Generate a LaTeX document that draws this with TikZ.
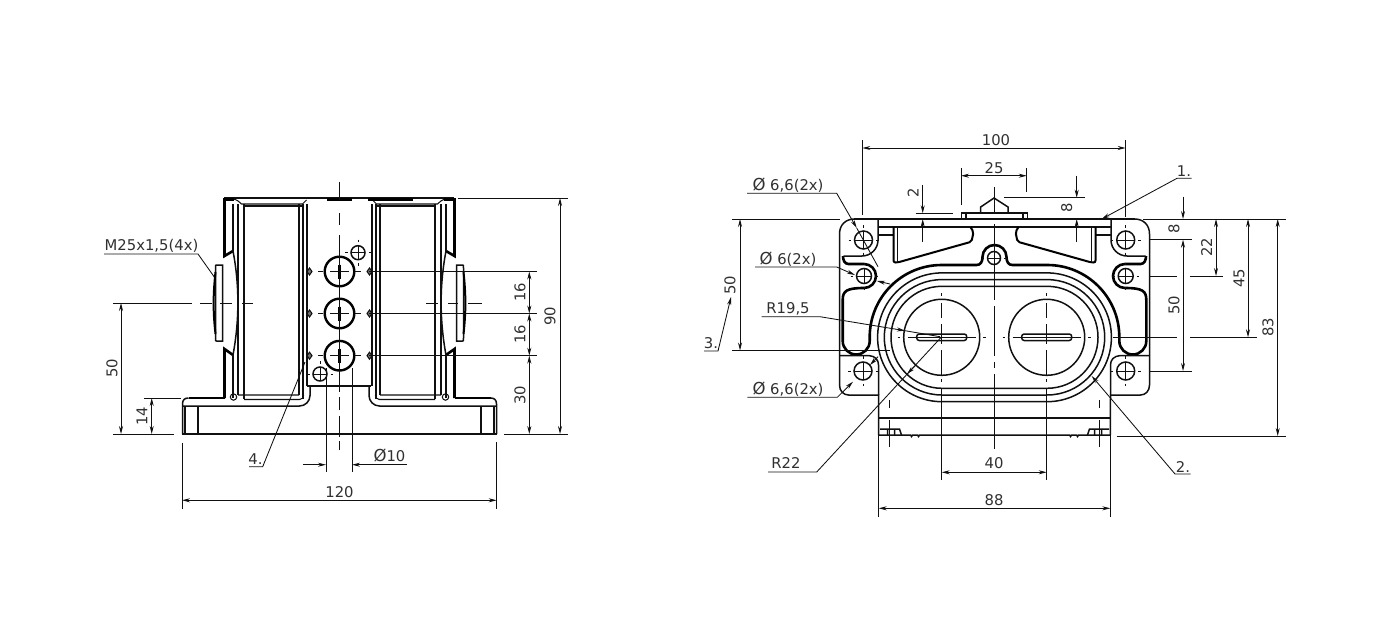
\documentclass[tikz,border=0pt]{standalone}
\usepackage{fontspec}
\setmainfont{DejaVu Sans}
\usepackage{xcolor}
\usetikzlibrary{arrows.meta}
\definecolor{mInk}{HTML}{101010}
\definecolor{mLabel}{HTML}{303030}
\tikzset{
  thinpart/.style={draw=mInk, line width=1.05pt},
  midpart/.style={draw=mInk, line width=1.5pt},
  heavypart/.style={draw=black, line width=2.6pt},
  dimline/.style={draw=mInk, line width=0.85pt},
  axisline/.style={draw=mInk, line width=0.8pt},
  dimtext/.style={text=mLabel, inner sep=0pt, font=\fontsize{14.8}{15}\selectfont},
  sidetext/.style={dimtext, rotate=90},
}
\newcommand{\bigdia}{{\fontsize{16.5}{15}\selectfont Ø}}
% bolt hole with its cross and the four ticks round it
\newcommand{\bolthole}[3]{
  \draw[midpart] (#1,#2) circle[radius=#3];
  \draw[axisline] (#1-#3,#2) -- (#1+#3,#2) (#1,#2-#3) -- (#1,#2+#3);
  \draw[axisline] (#1-#3-6,#2) -- +(2.5,0) (#1+#3+3.5,#2) -- +(2.5,0)
    (#1,#2-#3-6) -- +(0,2.5) (#1,#2+#3+3.5) -- +(0,2.5);
}
% small mark beside the holes of the side view
\newcommand{\sidemark}[2]{
  \draw[thinpart, fill=black!55] (#1-2.5,#2) -- (#1,#2-3.5) -- (#1+2.5,#2) -- (#1,#2+3.5) -- cycle;
}
\begin{document}
\begin{tikzpicture}[x=1pt, y=-1pt, >={Stealth[length=8pt, width=4pt]}]
\useasboundingbox (0,0) rectangle (1380,631);

% ---- side view ----
\foreach \sgn in {1,-1}{
  \begin{scope}[shift={(339.5,0)}, xscale=\sgn]
    \draw[heavypart] (-115,198) -- (-115,256) -- (-106.5,251);
    \draw[heavypart] (-106.5,355) -- (-115,349) -- (-115,398);
    \draw[midpart] (-106.5,251) .. controls (-100,285) and (-100,320) .. (-106.5,355);
    \draw[thinpart] (-106.5,204) -- (-106.5,251) (-106.5,355) -- (-106.5,398);
    \draw[thinpart] (-101.5,204) -- (-101.5,395);
    \draw[thinpart] (-95.5,204) -- (-95.5,399);
    \draw[thinpart] (-40.5,204) -- (-40.5,395) (-36.5,204) -- (-36.5,399) (-32.5,204) -- (-32.5,386);
    \draw[thinpart] (-106,199) .. controls (-102,200) and (-100,202) .. (-98,204) -- (-37,204);
    \draw[thinpart] (-95.5,206) -- (-37,206);
    \draw[thinpart] (-37,204) -- (-33,200);
    % connector stub
    \draw[midpart] (-117,341) -- (-123,341) .. controls (-124,341) and (-124,341) .. (-124,338)
      -- (-124,268) .. controls (-124,265) and (-124,265) .. (-123,265) -- (-117,265) -- cycle;
    \draw[heavypart, line width=2pt] (-124,272) .. controls (-126.5,295) and (-126.5,312) .. (-124,334);
    % foot of the housing
    \draw[heavypart] (-151,398) -- (-115,398);
    \draw[midpart] (-157,434) -- (-157,404) .. controls (-157,400) and (-155,398) .. (-151,398);
    \draw[thinpart] (-154.5,406) -- (-154.5,434) (-141.5,406) -- (-141.5,434);
    \draw[midpart] (-157,406) -- (-40,406) arc[start angle=90, end angle=0, radius=10.5] -- (-29.5,386);
    \draw[thinpart] (-101.5,395) -- (-40.5,395) (-95.5,399.5) -- (-40,399.5)
      arc[start angle=90, end angle=0, radius=4] -- (-36,395);
    \draw[thinpart] (-106,397) circle[radius=3.2];
  \end{scope}
}
\draw[midpart] (224,198) -- (454,198);
\draw[midpart] (182,434) -- (497,434);
\draw[midpart] (307,386) -- (371,386);
\draw[heavypart] (327,199.5) -- (352,199.5) (368,199.5) -- (413,199.5) (224,199.5) -- (234,199.5);
\draw[heavypart] (444,199.5) -- (454,199.5);
% three screw holes
\foreach \yh in {271.5,313.5,355.7}{
  \draw[heavypart, line width=2.4pt] (339.5,\yh) circle[radius=14.8];
  \draw[heavypart, line width=2.4pt] (339.5,\yh-7) -- (339.5,\yh+7);
  \draw[axisline] (318,\yh) -- (323,\yh) (330,\yh) -- (349,\yh) (355,\yh) -- (361,\yh);
  \sidemark{309.5}{\yh}
  \sidemark{369.5}{\yh}
}
\bolthole{358}{252.7}{7}
\bolthole{320}{374}{7}
\draw[axisline] (339.5,182) -- (339.5,200) (339.5,213) -- (339.5,225) (339.5,235) -- (339.5,392)
  (339.5,397) -- (339.5,410) (339.5,416) -- (339.5,437) (339.5,441) -- (339.5,450);
\draw[axisline] (200,303) -- (212,303) (220,303) -- (232,303) (242,303) -- (253,303);
\draw[axisline] (426,303) -- (438,303) (448,303) -- (458,303) (468,303) -- (482,303);

% dimensions of the side view
\draw[dimline] (113,303) -- (192,303) (113,434) -- (174,434) (144,398) -- (181,398);
\draw[dimline, <->] (121,303) -- (121,434);
\node[sidetext] (dimA) at (112,368) {50};
\draw[dimline, <->] (151.7,398) -- (151.7,434);
\node[sidetext] (dimB) at (142,416) {14};
\draw[dimline] (369,271.5) -- (537,271.5) (369,313.5) -- (537,313.5) (369,355.7) -- (537,355.7);
\draw[dimline] (504,434) -- (568,434) (458,198) -- (568,198);
\draw[dimline, <->] (529.3,271.5) -- (529.3,313.5);
\draw[dimline, <->] (529.3,313.5) -- (529.3,355.7);
\draw[dimline, <->] (529.3,355.7) -- (529.3,434);
\node[sidetext] (dimC) at (520,292) {16};
\node[sidetext] (dimD) at (520,334) {16};
\node[sidetext] (dimE) at (520,395) {30};
\draw[dimline, <->] (560,198) -- (560,434);
\node[sidetext] (dimF) at (550,316) {90};
\draw[dimline] (182,443) -- (182,509) (496.7,442) -- (496.7,509);
\draw[dimline, <->] (182,500.3) -- (496.7,500.3);
\node[dimtext] (dimG) at (339.5,492) {120};
\draw[dimline] (326,368) -- (326,472) (352,368) -- (352,472);
\draw[dimline, <-] (326,464.7) -- (303,464.7);
\draw[dimline, <-] (352,464.7) -- (407,464.7);
\node[dimtext] (dimH) at (389.5,455.5) {\bigdia10};
\node[dimtext] (noteA) at (151.5,245.5) {M25x1,5(4x)};
\draw[dimline] (104,254) -- (198,254) -- (214.3,277);
\node[dimtext] (noteB) at (255.5,459) {4.};
\draw[dimline] (249,466.7) -- (262.7,466.7) -- (305,362);

% ---- top view ----
\foreach \sgn in {1,-1}{
  \begin{scope}[shift={(994.5,0)}, xscale=\sgn]
    % sealing groove
    \draw[heavypart] (0,245) arc[start angle=-90, end angle=-180, radius=12]
      .. controls (-12,262) and (-14,265) .. (-18,265) -- (-52.8,265)
      arc[start angle=-90, end angle=-180, radius=72] -- (-124.8,341)
      arc[start angle=0, end angle=180, radius=13.5] -- (-151.8,300)
      .. controls (-151.8,291) and (-148,288) .. (-130.5,288)
      arc[start angle=90, end angle=-90, radius=12] -- (-146,264)
      .. controls (-150,264) and (-151.5,260) .. (-151.5,256);
    % rings of the cover
    \foreach \rad in {51,57.7,64.4}{
      \pgfmathsetmacro{\ytop}{337.3-\rad}
      \draw[midpart] (0,\ytop) -- (-52.5,\ytop)
        arc[start angle=-90, end angle=-270, radius=\rad] -- (0,337.3+\rad);
    }
    % flanges
    \draw[midpart] (-155,385) -- (-155,234) .. controls (-155,225) and (-149,219) .. (-140,219);
    \draw[midpart] (-116.5,219) -- (-116.5,240) arc[start angle=0, end angle=90, radius=16] -- (-151,256);
    \draw[midpart] (-155,355.5) -- (-126,355.5) .. controls (-119,356) and (-116,360) .. (-116,365) -- (-116,395);
    \draw[midpart] (-155,385) .. controls (-155,391) and (-151,395) .. (-146,395) -- (-116,395) -- (-115.8,435);
    \draw[thinpart] (-116,227) -- (0,227) (-116,235) -- (-101,235);
    % wedge
    \draw[heavypart, line width=2pt, rounded corners=2pt] (-101,227) -- (-101,262.5) -- (-97,262.5) -- (-23,241.7) -- (-21,232) -- (-24,227);
    \draw[thinpart] (-97,227) -- (-97,262);
    % feet
    \draw[midpart] (-114.5,429) -- (-95,429) -- (-93,435)
      (-107,429) -- (-107,435) (-100,429) -- (-100,435);
    \draw[midpart] (-115.8,435) -- (-84,435) -- (-83,436.5) -- (-82,435) -- (-77,435) -- (-76,436.5) -- (-75,435) -- (0,435);
    \draw[midpart] (-115.8,418) -- (0,418);
    \draw[axisline] (-105.3,400) -- (-105.3,408) (-105.3,420) -- (-105.3,447);
  \end{scope}
}
\draw[midpart] (854,219) -- (1135,219);
\draw[midpart] (961.5,213) rectangle (1027.5,219);
\draw[thinpart] (966,213) -- (966,219) (1023,213) -- (1023,219);
\draw[midpart] (980.7,213) -- (980.7,207) -- (994,198) -- (1008,207) -- (1008,213);
% holes
\bolthole{863.5}{240}{9}
\bolthole{1125.7}{240}{9}
\bolthole{864}{276}{7.5}
\bolthole{1125.7}{276}{7.5}
\bolthole{863}{371}{9}
\bolthole{1125.7}{371}{9}
\bolthole{994}{258}{6.5}
\foreach \xh in {941.7,1046.7}{
  \draw[midpart] (\xh,337.3) circle[radius=38];
  \draw[midpart, fill=white, rounded corners=2.5pt] (\xh-25,334) rectangle (\xh+25,340.5);
  \draw[heavypart, line width=1.4pt] (\xh-9,337.3) -- (\xh+9,337.3);
  \draw[axisline] (\xh-34,337.3) -- (\xh+34,337.3);
  \draw[axisline] (\xh-44,337.3) -- +(2.5,0) (\xh+41.5,337.3) -- +(2.5,0);
  \draw[axisline] (\xh,293) -- +(0,2.5) (\xh,303) -- (\xh,318) (\xh,324) -- (\xh,344) (\xh,350) -- (\xh,375) (\xh,379) -- +(0,2.5);
  \draw[dimline] (\xh,388) -- (\xh,480);
}
\draw[axisline] (994.5,187) -- (994.5,213) (994.5,224) -- (994.5,300) (994.5,306) -- (994.5,356)
  (994.5,362) -- (994.5,368) (994.5,374) -- (994.5,449);

% dimensions of the top view
\draw[dimline] (862.3,140) -- (862.3,215) (1125.7,140) -- (1125.7,217);
\draw[dimline, <->] (862.3,148) -- (1125.7,148);
\node[dimtext] (dimJ) at (996,140) {100};
\draw[dimline] (961,168) -- (961,205) (1026.7,168) -- (1026.7,192);
\draw[dimline, <->] (961,175.7) -- (1026.7,175.7);
\node[dimtext] (dimK) at (994,168) {25};
\draw[dimline] (915.7,213.3) -- (953,213.3);
\draw[dimline, ->] (922.7,185) -- (922.7,213.3);
\draw[dimline, ->] (922.7,241.7) -- (922.7,219);
\node[sidetext] (dimL) at (913,193) {2};
\draw[dimline] (1004,197.7) -- (1085,197.7);
\draw[dimline, ->] (1076.7,175.7) -- (1076.7,197.7);
\draw[dimline, ->] (1076.7,241.7) -- (1076.7,219);
\node[sidetext] (dimM) at (1066.7,208) {8};
\draw[dimline] (732,219) -- (840,219) (732,350.5) -- (890,350.5);
\draw[dimline, <->] (740,219) -- (740,350.5);
\node[sidetext] (dimN) at (730,285) {50};
\draw[dimline] (1143,219) -- (1286,219) (1150,239.7) -- (1191.7,239.7) (1150,371) -- (1191.7,371);
\draw[dimline] (1150,276) -- (1176.7,276) (1190,276) -- (1223,276);
\draw[dimline] (1113,337.3) -- (1177,337.3) (1190,337.3) -- (1256.7,337.3) (1116.7,436) -- (1286,436);
\draw[dimline, ->] (1183,196.7) -- (1183,219);
\draw[dimline, <->] (1183,239.7) -- (1183,371);
\node[sidetext] (dimP) at (1174,229) {8};
\node[sidetext] (dimQ) at (1174,305) {50};
\draw[dimline, <->] (1216,219) -- (1216,276);
\node[sidetext] (dimR) at (1206.7,247) {22};
\draw[dimline, <->] (1248,219) -- (1248,337.3);
\node[sidetext] (dimS) at (1239,278) {45};
\draw[dimline, <->] (1277.7,219) -- (1277.7,436);
\node[sidetext] (dimT) at (1268,327) {83};
\draw[dimline, <->] (941.7,472.3) -- (1046.7,472.3);
\node[dimtext] (dimU) at (994,463.5) {40};
\draw[dimline] (878.7,435) -- (878.7,516.7) (1110.3,435) -- (1110.3,516.7);
\draw[dimline, <->] (878.7,508.3) -- (1110.3,508.3);
\node[dimtext] (dimV) at (994,500) {88};

% leaders
\node[dimtext] (noteC) at (788,185.5) {\bigdia{} 6,6(2x)};
\draw[dimline, ->] (747,193.3) -- (836.7,193.3) -- (856.7,228);
\draw[dimline] (856.7,228) -- (878,266.7);
\node[dimtext] (noteD) at (788,259) {\bigdia{} 6(2x)};
\draw[dimline, ->] (755,267) -- (836.7,267) -- (855,275);
\draw[dimline, ->] (890,284) -- (877,281);
\node[dimtext] (noteE) at (788,389) {\bigdia{} 6,6(2x)};
\draw[dimline, ->] (747.3,397.3) -- (837.3,397.3) -- (853,381.7);
\draw[dimline, ->] (878,356.7) -- (870,365);
\node[dimtext] (noteF) at (788,309) {R19,5};
\draw[dimline, ->] (761.7,316.7) -- (820,316.7) -- (905,330.7);
\draw[dimline] (905,330.7) -- (940,336.7);
\node[dimtext] (noteG) at (786,463) {R22};
\draw[dimline] (768,472) -- (816.7,472) -- (941.7,336.7);
\draw[dimline, <-] (907,374) -- (916,365);
\node[dimtext] (noteH) at (711,343) {3.};
\draw[dimline, ->] (704,351) -- (718,351) -- (731,297);
\node[dimtext] (noteJ) at (1184,171) {1.};
\draw[dimline, ->] (1191.7,178.3) -- (1177,178.3) -- (1101.7,219);
\node[dimtext] (noteK) at (1183,467) {2.};
\draw[dimline, ->] (1190.7,474) -- (1175,474) -- (1091.7,376);
\end{tikzpicture}
\end{document}
